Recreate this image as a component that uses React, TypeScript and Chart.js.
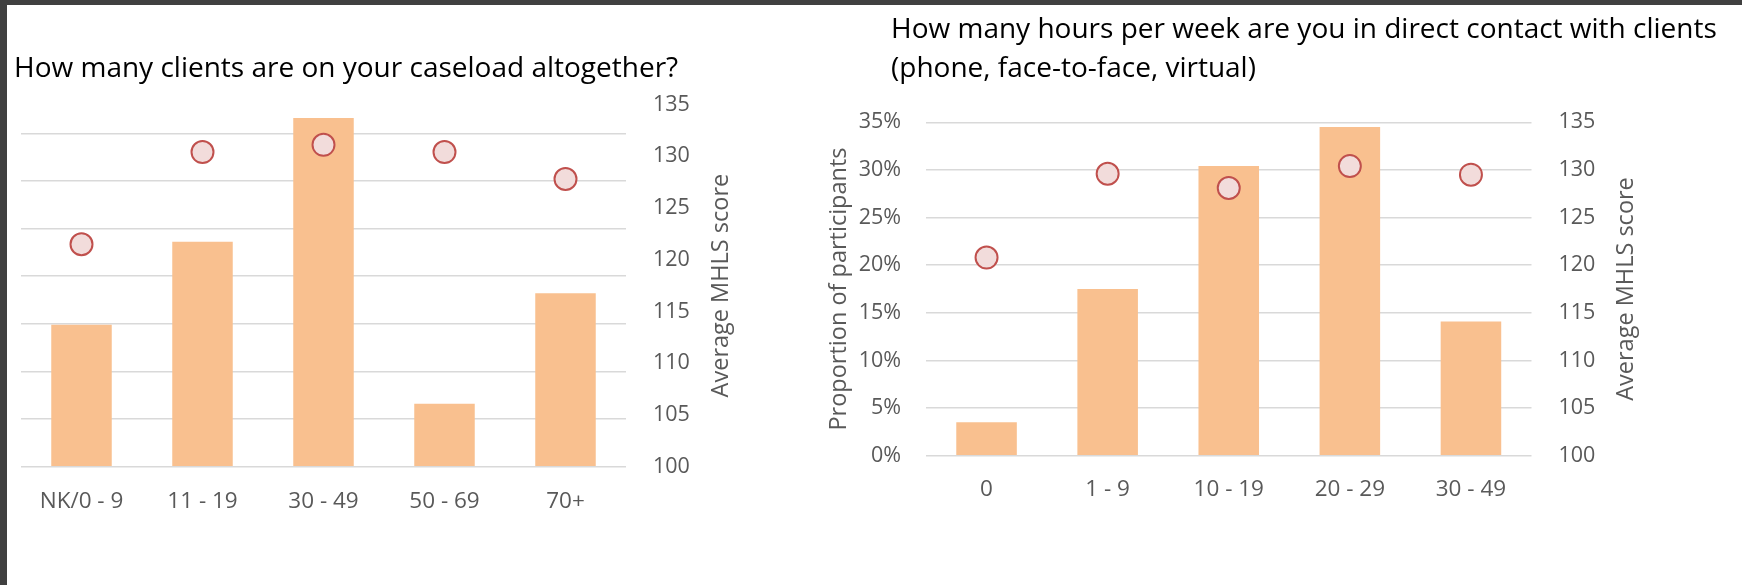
import React, { useEffect, useRef } from 'react';
import { Chart, registerables } from 'chart.js';

Chart.register(...registerables);

// Caseload size: share of participants and average MHLS score per group
const caseloadLabels = ['NK/0 - 9', '11 - 19', '30 - 49', '50 - 69', '70+'];
const caseloadShare = [0.149, 0.236, 0.366, 0.066, 0.182];
const caseloadMhls = [121.5, 130.4, 131.1, 130.4, 127.8];

// Weekly hours of direct client contact
const contactLabels = ['0', '1 - 9', '10 - 19', '20 - 29', '30 - 49'];
const contactShare = [0.035, 0.175, 0.304, 0.345, 0.141];
const contactMhls = [120.8, 129.6, 128.1, 130.4, 129.5];

const caseloadTitle = 'How many clients are on your caseload altogether?';
const contactTitle = ['How many hours per week are you in direct contact with clients', '(phone, face-to-face, virtual)'];
const shareAxisTitle = 'Proportion of participants';
const scoreAxisTitle = 'Average MHLS score';

const FONT = "'Open Sans', 'Noto Sans', 'DejaVu Sans', sans-serif";
const TICK_COLOR = '#595959';
const GRID_COLOR = '#d9d9d9';
const BAR_COLOR = '#f9c08f';
const DOT_FILL = '#f2dcdb';
const DOT_STROKE = '#c0504d';

// Title for the right-hand score axis, written bottom-to-top
const rightAxisTitle = {
  id: 'rightAxisTitle',
  afterDraw(chart: any, _args: any, opts: any) {
    const scale = chart.scales[opts.scaleId];
    if (!scale) return;
    const { ctx, chartArea } = chart;
    ctx.save();
    ctx.translate(scale.left + opts.offset, (chartArea.top + chartArea.bottom) / 2);
    ctx.rotate(-Math.PI / 2);
    ctx.font = `${opts.size}px ${FONT}`;
    ctx.fillStyle = opts.color;
    ctx.textAlign = 'center';
    ctx.textBaseline = 'middle';
    ctx.fillText(opts.text, 0, 0);
    ctx.restore();
  },
};

type Spec = {
  labels: string[];
  share: number[];
  mhls: number[];
  shareMax: number;
  showShareAxis: boolean;
  padLeft: number;
  padTop: number;
  yWidth: number;
  y2Width: number;
  xHeight: number;
  xPad: number;
};

function buildChart(canvas: HTMLCanvasElement, spec: Spec) {
  const tickFont = { family: FONT, size: 21.5 };
  return new Chart(canvas, {
    type: 'bar',
    data: {
      labels: spec.labels,
      datasets: [
        {
          type: 'line',
          data: spec.mhls,
          yAxisID: 'y2',
          showLine: false,
          pointRadius: 11,
          pointHoverRadius: 11,
          pointBackgroundColor: DOT_FILL,
          pointBorderColor: DOT_STROKE,
          pointBorderWidth: 2,
          order: 0,
        } as any,
        {
          type: 'bar',
          data: spec.share,
          yAxisID: 'y',
          backgroundColor: BAR_COLOR,
          barPercentage: 0.5,
          categoryPercentage: 1,
          order: 1,
        },
      ],
    },
    options: {
      responsive: false,
      animation: false,
      layout: { padding: { left: spec.padLeft, top: spec.padTop, right: 0, bottom: 0 } },
      plugins: {
        legend: { display: false },
        tooltip: { enabled: false },
        rightAxisTitle: { scaleId: 'y2', offset: 95, text: scoreAxisTitle, size: 23.5, color: TICK_COLOR },
      } as any,
      scales: {
        x: {
          grid: { display: false, drawTicks: false },
          border: { display: false },
          ticks: { color: TICK_COLOR, font: { family: FONT, size: 22.5 }, padding: spec.xPad, maxRotation: 0, autoSkip: false },
          afterFit: (s: any) => { s.height = spec.xHeight; },
        },
        y: {
          position: 'left',
          min: 0,
          max: spec.shareMax,
          grid: { color: GRID_COLOR, lineWidth: 1.5, drawTicks: false },
          border: { display: false },
          ticks: {
            display: spec.showShareAxis,
            stepSize: 0.05,
            includeBounds: false,
            padding: 25,
            color: TICK_COLOR,
            font: tickFont,
            callback: (v: any) => `${Math.round(Number(v) * 100)}%`,
          },
          title: {
            display: spec.showShareAxis,
            text: shareAxisTitle,
            color: TICK_COLOR,
            font: { family: FONT, size: 23.5 },
            padding: { top: 25, bottom: 0 },
          },
          afterFit: (s: any) => { s.width = spec.yWidth; },
        },
        y2: {
          position: 'right',
          min: 100,
          max: 135,
          grid: { display: false, drawTicks: false },
          border: { display: false },
          ticks: { stepSize: 5, padding: 27, color: TICK_COLOR, font: tickFont },
          afterFit: (s: any) => { s.width = spec.y2Width; },
        },
      },
    } as any,
    plugins: [rightAxisTitle as any],
  });
}

function ChartCanvas({ spec, left, width }: { spec: Spec; left: number; width: number }) {
  const ref = useRef<HTMLCanvasElement | null>(null);
  useEffect(() => {
    if (!ref.current) return;
    const chart = buildChart(ref.current, spec);
    return () => chart.destroy();
  }, [spec]);
  return (
    <canvas
      ref={ref}
      width={width}
      height={585}
      style={{ position: 'absolute', left, top: 0, width, height: 585 }}
    />
  );
}

const caseloadSpec: Spec = {
  labels: caseloadLabels,
  share: caseloadShare,
  mhls: caseloadMhls,
  shareMax: 0.3802,
  showShareAxis: false,
  padLeft: 21,
  padTop: 104.5,
  yWidth: 0,
  y2Width: 174,
  xHeight: 118.3,
  xPad: 21,
};

const contactSpec: Spec = {
  labels: contactLabels,
  share: contactShare,
  mhls: contactMhls,
  shareMax: 0.35,
  showShareAxis: true,
  padLeft: 0,
  padTop: 122.3,
  yWidth: 126,
  y2Width: 210.5,
  xHeight: 129.3,
  xPad: 20,
};

const titleStyle: React.CSSProperties = {
  position: 'absolute',
  fontFamily: FONT,
  fontSize: 28,
  color: '#000',
  whiteSpace: 'nowrap',
  lineHeight: '39px',
};

export default function App() {
  return (
    <div style={{ position: 'fixed', left: 0, top: 0, width: 1742, height: 585, background: '#fff', overflow: 'hidden' }}>
      <div style={{ position: 'absolute', left: 0, top: 0, width: 1742, height: 5, background: '#404040' }} />
      <div style={{ position: 'absolute', left: 0, top: 0, width: 7, height: 585, background: '#404040' }} />
      <ChartCanvas spec={caseloadSpec} left={0} width={800} />
      <ChartCanvas spec={contactSpec} left={800} width={942} />
      <div style={{ ...titleStyle, left: 14, top: 47 }}>{caseloadTitle}</div>
      <div style={{ ...titleStyle, left: 891, top: 8 }}>
        <div>{contactTitle[0]}</div>
        <div>{contactTitle[1]}</div>
      </div>
    </div>
  );
}
